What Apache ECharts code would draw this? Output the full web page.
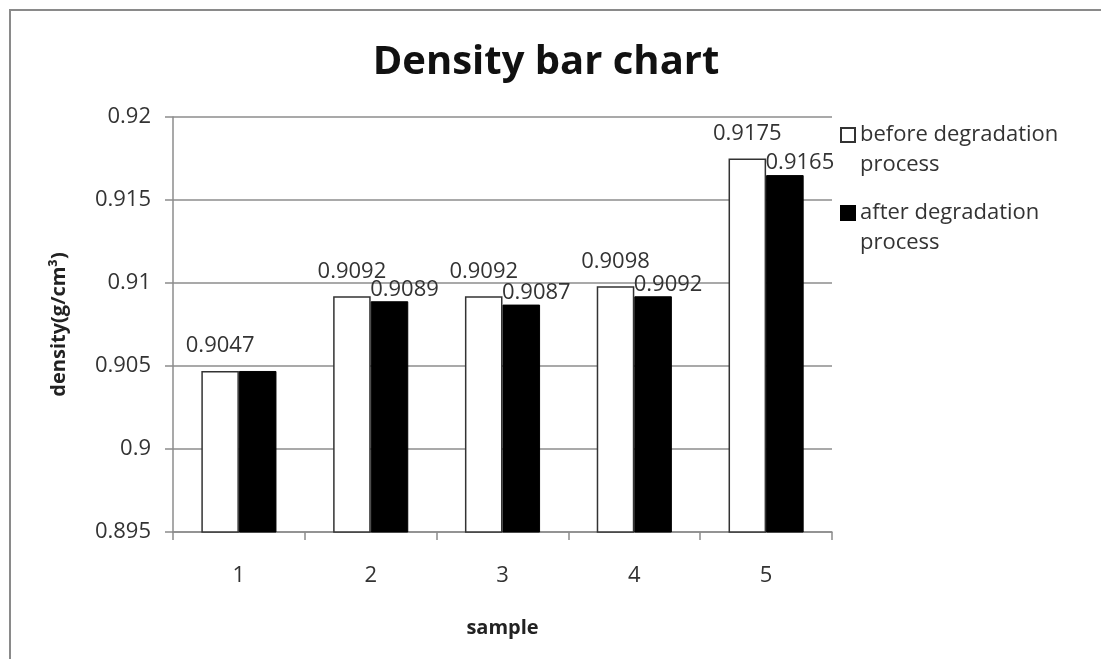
<!DOCTYPE html>
<html>
<head>
<meta charset="utf-8">
<script src="https://cdn.jsdelivr.net/npm/echarts@6/dist/echarts.min.js"></script>
<style>
  html, body { margin: 0; padding: 0; background: #fff; }
  #main { width: 1101px; height: 659px; }
</style>
</head>
<body>
<div id="main"></div>
<script>
// data
var samples = ['1', '2', '3', '4', '5'];
var beforeVals = [0.9047, 0.9092, 0.9092, 0.9098, 0.9175];
var afterVals = [0.9047, 0.9089, 0.9087, 0.9092, 0.9165];
var seriesNames = ['before degradation process', 'after degradation process'];

var FONT = '"Open Sans", "Noto Sans", sans-serif';

window.onload = function () {
  var chart = echarts.init(document.getElementById('main'), null, { renderer: 'canvas' });

  // the first "after" label sits under the "before" one in the original, so it is not shown
  var afterData = afterVals.map(function (v, i) {
    return i === 0 ? { value: v, label: { show: false } } : v;
  });

  // square at the top of a taller box so the icon lines up with the first text line
  var legendIcon = 'path://M0,0L14,0L14,14L0,14ZM0,44';

  var option = {
    animation: false,
    backgroundColor: '#fff',
    textStyle: { fontFamily: FONT },
    graphic: [{
      type: 'rect',
      shape: { x: 10, y: 10, width: 1200, height: 800 },
      style: { fill: 'none', stroke: '#8a8a8a', lineWidth: 2 },
      silent: true
    }],
    title: {
      text: 'Density bar chart',
      left: 541,
      textAlign: 'center',
      top: 38,
      textStyle: { fontFamily: FONT, fontSize: 40, fontWeight: 'bold', color: '#111' }
    },
    legend: {
      orient: 'vertical',
      left: 835,
      top: 115,
      itemWidth: 14,
      itemHeight: 44,
      itemGap: 18,
      icon: legendIcon,
      formatter: function (name) { return name.replace(' process', '\nprocess'); },
      textStyle: { fontFamily: FONT, fontSize: 22, color: '#333', lineHeight: 30 }
    },
    grid: { left: 173, right: 269, top: 117, bottom: 127 },
    xAxis: {
      type: 'category',
      data: samples,
      name: 'sample',
      nameLocation: 'middle',
      nameGap: 86,
      nameTextStyle: { fontFamily: FONT, fontSize: 20, fontWeight: 'bold', color: '#222' },
      axisLine: { lineStyle: { color: '#8c8c8c', width: 1.5 } },
      axisTick: { show: true, length: 8, alignWithLabel: false, lineStyle: { color: '#8c8c8c', width: 1.5 } },
      axisLabel: { margin: 33, fontFamily: FONT, fontSize: 22, color: '#333' }
    },
    yAxis: {
      type: 'value',
      min: 0.895,
      max: 0.92,
      interval: 0.005,
      name: 'density(g/cm³)',
      nameLocation: 'middle',
      nameGap: 104,
      nameTextStyle: { fontFamily: FONT, fontSize: 20, fontWeight: 'bold', color: '#222' },
      axisLine: { show: true, lineStyle: { color: '#8c8c8c', width: 1.5 } },
      axisTick: { show: true, length: 8, lineStyle: { color: '#8c8c8c', width: 1.5 } },
      splitLine: { show: true, lineStyle: { color: '#8c8c8c', width: 1.5 } },
      axisLabel: {
        margin: 22,
        fontFamily: FONT,
        fontSize: 22,
        color: '#333',
        formatter: function (v) { return String(+v.toFixed(3)); }
      }
    },
    series: [
      {
        name: seriesNames[0],
        type: 'bar',
        data: beforeVals,
        barGap: '0%',
        barCategoryGap: '43%',
        itemStyle: { color: '#fff', borderColor: '#333', borderWidth: 1.5 },
        label: {
          show: true,
          position: 'top',
          distance: 14,
          fontFamily: FONT,
          fontSize: 22,
          color: '#333',
          formatter: function (p) { return p.value.toFixed(4); }
        }
      },
      {
        name: seriesNames[1],
        type: 'bar',
        data: afterData,
        itemStyle: { color: '#000', borderColor: '#000', borderWidth: 1 },
        label: {
          show: true,
          position: 'top',
          distance: 1,
          offset: [15, 0],
          fontFamily: FONT,
          fontSize: 22,
          color: '#333',
          formatter: function (p) { return (+p.value).toFixed(4); }
        }
      }
    ]
  };

  chart.setOption(option);
};
</script>
</body>
</html>
